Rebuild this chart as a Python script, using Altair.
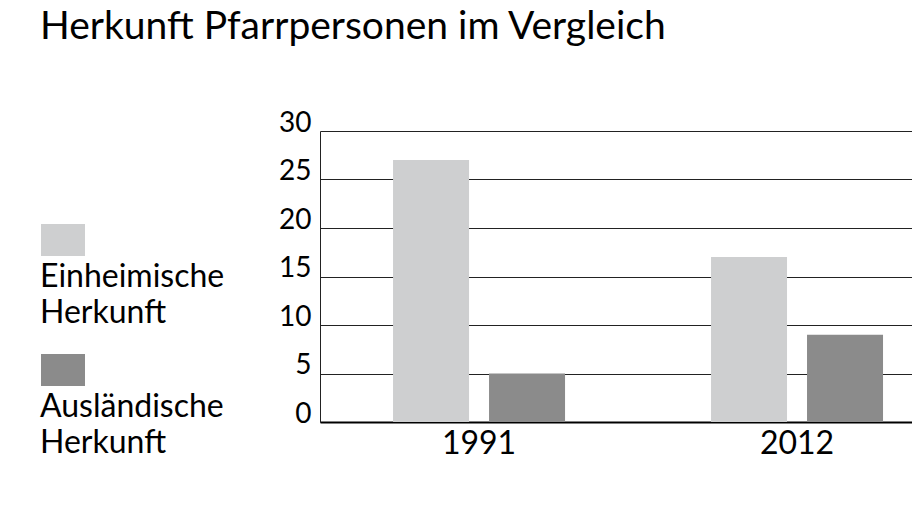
import altair as alt
import pandas as pd

# ---- data ----
years = ["1991", "2012"]
categories = ["Einheimische Herkunft", "Ausländische Herkunft"]
einheimisch = [27, 17]
auslaendisch = [5, 9]
y_ticks = [0, 5, 10, 15, 20, 25, 30]
colors = ["#cecfd0", "#8b8b8b"]
title_text = "Herkunft Pfarrpersonen im Vergleich"

rows = []
for i, yr in enumerate(years):
    rows.append({"Jahr": yr, "Herkunft": categories[0], "Anzahl": einheimisch[i]})
    rows.append({"Jahr": yr, "Herkunft": categories[1], "Anzahl": auslaendisch[i]})
df = pd.DataFrame(rows)
legend_df = pd.DataFrame({"Herkunft": categories})

FONT = "Lato"
color_scale = alt.Scale(domain=categories, range=colors)

# ---- main bar chart ----
bars = alt.Chart(df).mark_bar().encode(
    x=alt.X(
        "Jahr:N",
        sort=years,
        scale=alt.Scale(paddingInner=0.4591, paddingOuter=0.1604, align=0.716),
        axis=alt.Axis(
            title=None, labelAngle=0, labelFontSize=32, labelColor="black",
            labelFont=FONT, domainColor="black", domainWidth=2, ticks=False,
            labelPadding=6,
        ),
    ),
    xOffset=alt.XOffset(
        "Herkunft:N", sort=categories,
        scale=alt.Scale(paddingInner=0.2083, paddingOuter=0),
    ),
    y=alt.Y(
        "Anzahl:Q",
        scale=alt.Scale(domain=[0, 30], nice=False),
        axis=alt.Axis(
            title=None, values=y_ticks, labelFontSize=28, labelColor="black",
            labelFont=FONT, labelBaseline="alphabetic", labelPadding=9,
            ticks=False, grid=True, gridColor="#222222", gridWidth=1,
            domain=True, domainColor="#222222", domainWidth=1,
        ),
    ),
    color=alt.Color("Herkunft:N", scale=color_scale, legend=None),
).properties(width=592, height=291)

# ---- custom legend panel (symbol above two-line label) ----
leg_y = alt.Y(
    "Herkunft:N", sort=categories,
    scale=alt.Scale(type="point", padding=0.619, align=0.677),
    axis=None,
)
leg_sym = alt.Chart(legend_df).mark_point(
    shape="M-1,-0.7273H1V0.7273H-1Z", size=1936, filled=True, opacity=1,
    strokeWidth=0,
).encode(
    y=leg_y,
    x=alt.value(23),
    color=alt.Color("Herkunft:N", scale=color_scale, legend=None),
)
leg_txt = alt.Chart(legend_df).mark_text(
    align="left", baseline="alphabetic", dy=47, lineBreak=" ", lineHeight=36,
    fontSize=32, font=FONT, color="black",
).encode(
    y=leg_y,
    x=alt.value(0),
    text="Herkunft:N",
)
legend_panel = alt.layer(leg_sym, leg_txt).properties(width=200, height=291)

chart = alt.hconcat(legend_panel, bars, spacing=80, bounds="flush").properties(
    title=alt.TitleParams(
        title_text, anchor="start", fontSize=39, font=FONT, fontWeight="normal",
        color="black", offset=62,
    ),
    padding={"left": 32, "top": 0, "right": 0, "bottom": 4},
    background="white",
).configure_view(stroke=None)

chart.save("out.html", embed_options={"renderer": "svg", "actions": False})
